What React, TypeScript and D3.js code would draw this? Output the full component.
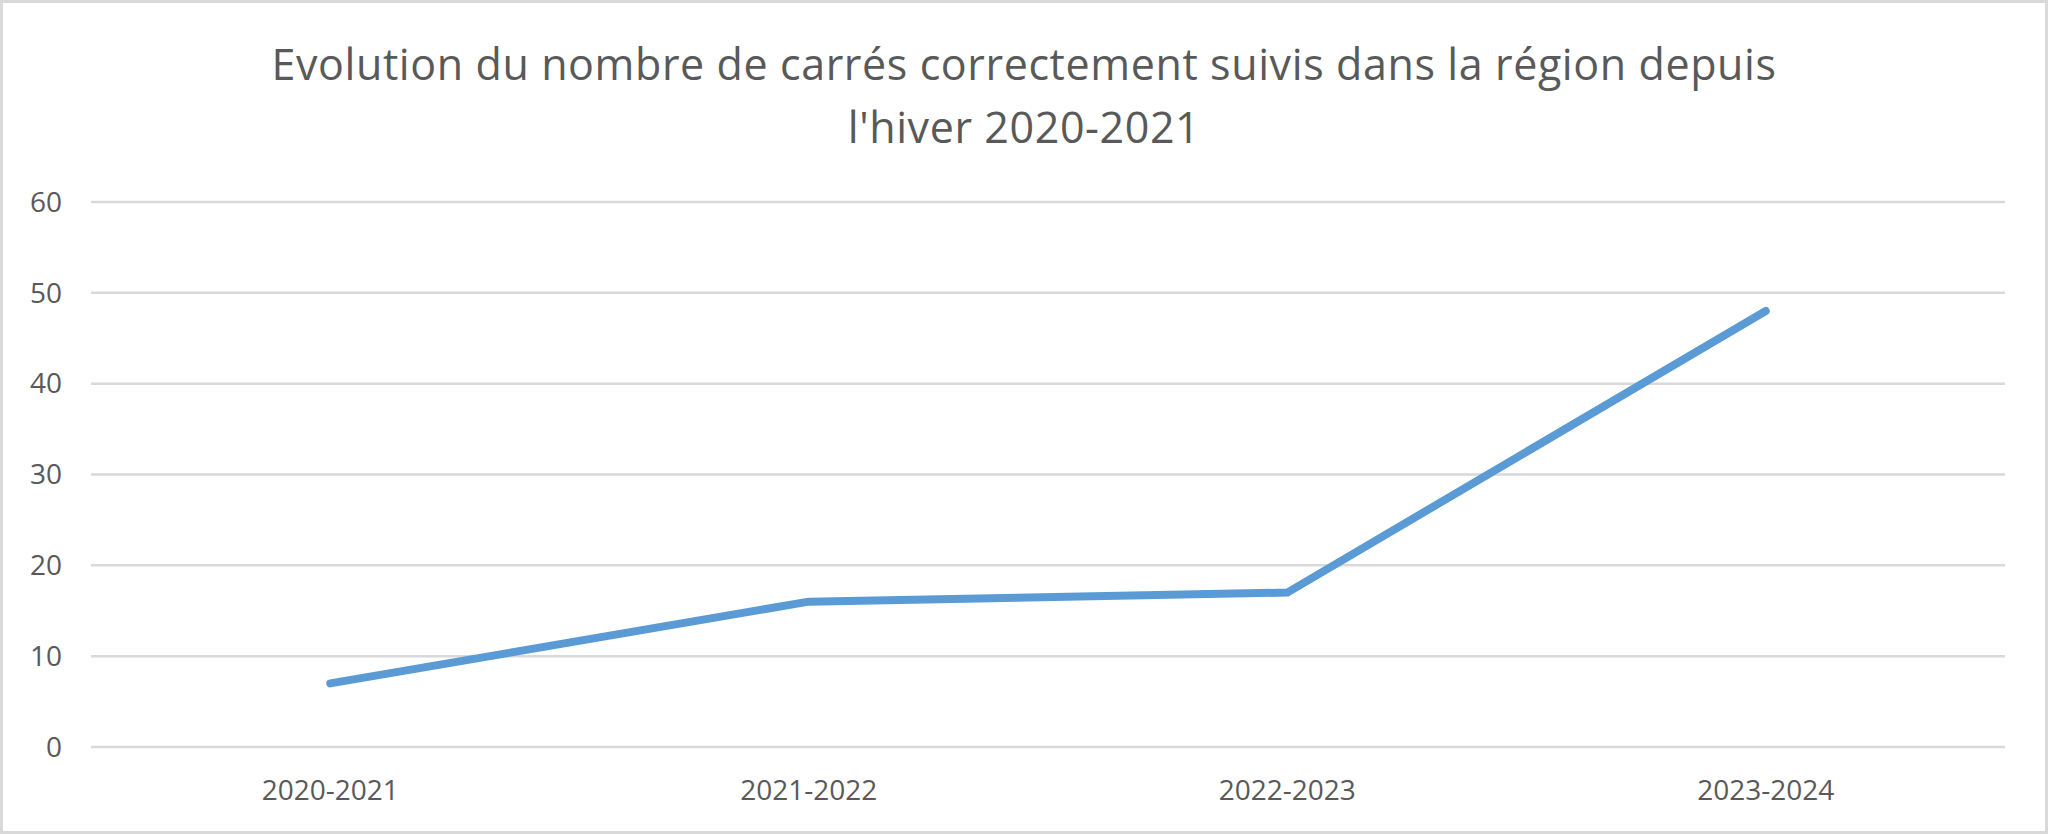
import React from "react";
import * as d3 from "d3";

const categories = ["2020-2021", "2021-2022", "2022-2023", "2023-2024"];
const values = [7, 16, 17, 48];
const yTicks = [0, 10, 20, 30, 40, 50, 60];
const titleLines = [
  "Evolution du nombre de carrés correctement suivis dans la région depuis",
  "l'hiver 2020-2021",
];

const W = 2048;
const H = 834;
const font = "'Open Sans', sans-serif";

export default function App() {
  const x = d3.scaleBand<string>().domain(categories).range([91, 2005]);
  const y = d3.scaleLinear().domain([0, 60]).range([747, 202]);
  const line = d3
    .line<number>()
    .x((_, i) => (x(categories[i]) as number) + x.bandwidth() / 2)
    .y((d) => y(d));

  return (
    <svg
      width={W}
      height={H}
      style={{ position: "absolute", left: 0, top: 0, display: "block" }}
    >
      <rect x={0} y={0} width={W} height={H} fill="#ffffff" />
      <rect x={1.5} y={1.5} width={W - 3} height={H - 3} fill="none" stroke="#d9d9d9" strokeWidth={3} />
      {titleLines.map((t, i) => (
        <text
          key={i}
          x={1024}
          y={80 + i * 63}
          textAnchor="middle"
          fontFamily={font}
          fontSize={43}
          letterSpacing={0.6}
          fill="#595959"
        >
          {t}
        </text>
      ))}
      {yTicks.map((t) => (
        <g key={t}>
          <line x1={91} x2={2005} y1={y(t)} y2={y(t)} stroke="#d9d9d9" strokeWidth={2.5} />
          <text
            x={62}
            y={y(t)}
            dy="0.35em"
            textAnchor="end"
            fontFamily={font}
            fontSize={28}
            fill="#595959"
          >
            {t}
          </text>
        </g>
      ))}
      {categories.map((c) => (
        <text
          key={c}
          x={(x(c) as number) + x.bandwidth() / 2}
          y={790}
          dy="0.35em"
          textAnchor="middle"
          fontFamily={font}
          fontSize={28}
          fill="#595959"
        >
          {c}
        </text>
      ))}
      <path
        d={line(values) || ""}
        fill="none"
        stroke="#5b9bd5"
        strokeWidth={8}
        strokeLinecap="round"
        strokeLinejoin="round"
      />
    </svg>
  );
}
